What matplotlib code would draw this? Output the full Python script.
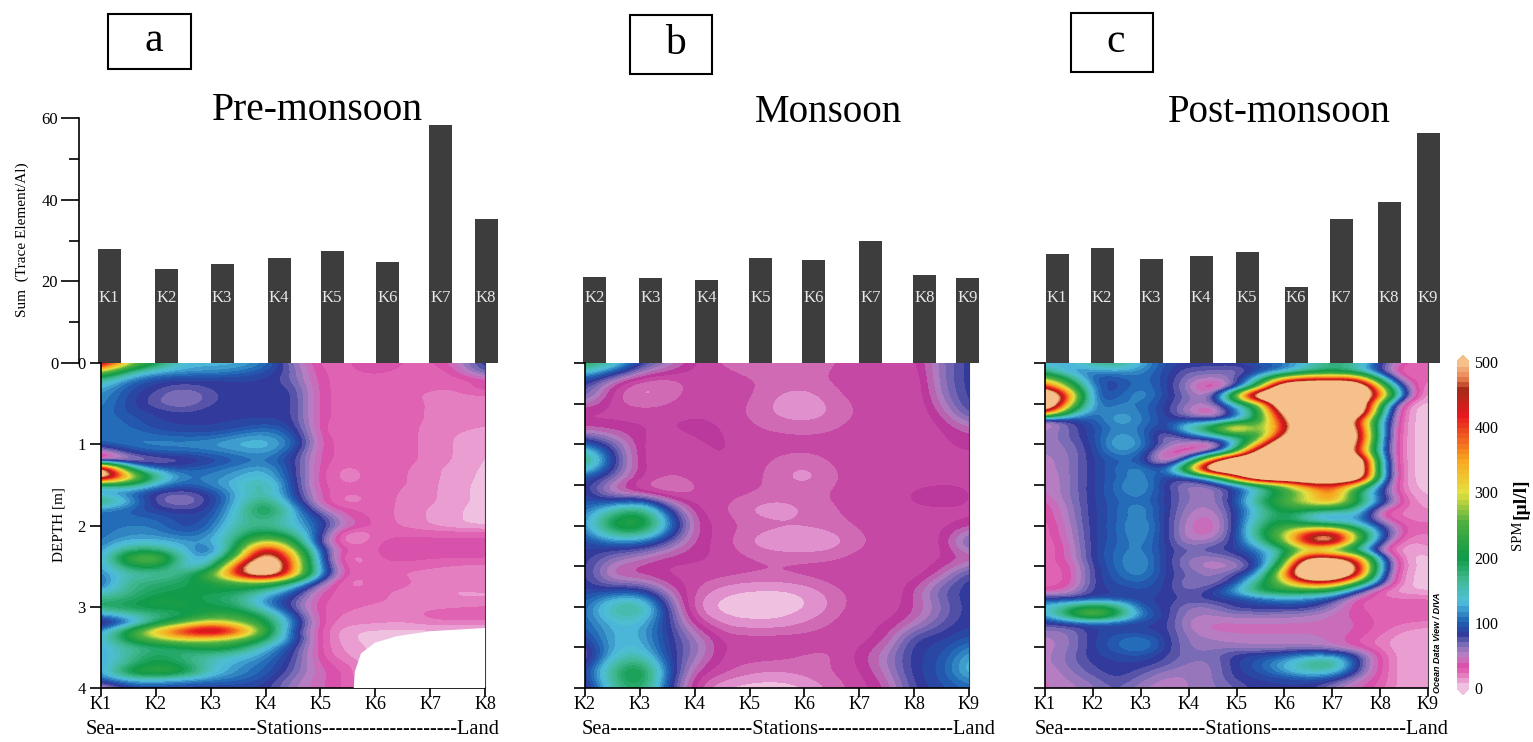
import numpy as np
from matplotlib import pyplot as plt
from matplotlib.colors import LinearSegmentedColormap, Normalize

plt.rcParams['font.family'] = ['Liberation Serif', 'DejaVu Sans']

# bar chart data
stations_a = ['K1', 'K2', 'K3', 'K4', 'K5', 'K6', 'K7', 'K8']
stations_b = ['K2', 'K3', 'K4', 'K5', 'K6', 'K7', 'K8', 'K9']
stations_c = ['K1', 'K2', 'K3', 'K4', 'K5', 'K6', 'K7', 'K8', 'K9']
sum_a = [28.0, 23.0, 24.2, 25.7, 27.4, 24.8, 58.3, 35.2]
sum_b = [21.0, 20.8, 20.4, 25.7, 25.2, 29.8, 21.5, 20.8]
sum_c = [26.7, 28.1, 25.4, 26.2, 27.2, 18.6, 35.2, 39.5, 56.3]

# SPM sections, rows = depth from 0 to 4 m, columns = every half station
# a and c have a row every 0.1 m, b every 0.2 m. values above 500 are off the scale
spm_a = [
    [500, 300, 200, 130, 130, 130, 110, 60, 25, 28, 45, 30, 28, 45, 90],
    [300, 170, 130, 120, 120, 110, 95, 70, 28, 28, 35, 28, 25, 35, 80],
    [170, 110, 90, 85, 85, 85, 85, 70, 30, 28, 28, 25, 25, 28, 35],
    [130, 95, 80, 70, 80, 85, 85, 80, 30, 28, 28, 25, 25, 22, 40],
    [120, 90, 75, 55, 75, 85, 85, 85, 30, 28, 28, 25, 22, 22, 22],
    [115, 90, 70, 60, 78, 85, 85, 85, 30, 28, 28, 28, 22, 20, 20],
    [110, 90, 85, 75, 85, 85, 85, 85, 30, 28, 30, 28, 22, 18, 18],
    [110, 100, 85, 85, 85, 85, 85, 85, 30, 28, 30, 28, 22, 18, 18],
    [105, 105, 90, 85, 85, 90, 105, 90, 30, 18, 28, 28, 20, 18, 15],
    [105, 110, 105, 100, 100, 115, 125, 100, 32, 25, 28, 28, 20, 15, 10],
    [100, 110, 115, 115, 120, 130, 135, 110, 32, 28, 28, 28, 20, 15, 8],
    [30, 85, 100, 100, 105, 115, 125, 90, 32, 28, 30, 28, 20, 15, 8],
    [3, 40, 60, 70, 85, 100, 110, 85, 32, 28, 30, 28, 20, 15, 6],
    [600, 170, 100, 95, 105, 115, 130, 85, 32, 18, 30, 25, 18, 12, 6],
    [600, 350, 170, 110, 110, 125, 140, 85, 30, 18, 28, 25, 18, 12, 5],
    [150, 190, 120, 95, 115, 135, 170, 85, 30, 22, 28, 25, 18, 10, 5],
    [115, 100, 75, 65, 85, 130, 160, 90, 35, 22, 28, 22, 18, 10, 5],
    [200, 130, 70, 55, 80, 130, 190, 100, 35, 15, 28, 22, 18, 10, 5],
    [110, 100, 85, 75, 85, 140, 220, 130, 50, 30, 30, 20, 15, 8, 5],
    [105, 105, 100, 90, 90, 150, 190, 130, 85, 35, 30, 20, 15, 8, 5],
    [105, 110, 110, 85, 100, 160, 170, 140, 90, 45, 30, 22, 15, 8, 5],
    [105, 115, 115, 100, 110, 170, 210, 170, 85, 3, 28, 30, 30, 30, 30],
    [105, 130, 130, 120, 120, 180, 320, 220, 60, 8, 32, 35, 33, 33, 33],
    [110, 180, 180, 130, 85, 200, 500, 280, 85, 25, 32, 35, 33, 33, 33],
    [115, 250, 290, 140, 110, 260, 600, 350, 85, 8, 32, 35, 33, 33, 33],
    [110, 200, 220, 130, 130, 420, 700, 350, 100, 18, 28, 28, 25, 22, 20],
    [110, 150, 150, 170, 250, 450, 600, 350, 110, 20, 28, 22, 20, 18, 15],
    [90, 170, 180, 190, 210, 240, 260, 170, 60, 12, 30, 28, 18, 15, 28],
    [120, 170, 190, 200, 200, 200, 160, 100, 35, 25, 25, 22, 18, 15, 15],
    [170, 180, 210, 200, 190, 170, 110, 80, 30, 28, 25, 22, 18, 15, 15],
    [190, 200, 210, 210, 200, 190, 120, 70, 28, 25, 22, 22, 20, 22, 25],
    [110, 150, 170, 180, 220, 230, 180, 90, 28, 22, 20, 18, 28, 32, 30],
    [55, 90, 180, 250, 330, 270, 210, 110, 28, 18, 18, 15, 20, 20, 20],
    [110, 220, 350, 450, 520, 430, 230, 85, 28, 8, 5, 5, 5, 5, 5],
    [130, 210, 270, 310, 290, 260, 190, 100, 28, 8, 5, 5, 5, 5, 5],
    [120, 160, 170, 190, 220, 200, 130, 85, 28, 12, 5, 5, 5, 5, 5],
    [120, 160, 200, 170, 160, 140, 115, 80, 30, 15, 5, 5, 5, 5, 5],
    [115, 170, 210, 190, 140, 120, 105, 75, 35, 25, 5, 5, 5, 5, 5],
    [115, 220, 250, 220, 140, 115, 100, 70, 40, 30, 5, 5, 5, 5, 5],
    [95, 130, 130, 120, 110, 105, 90, 60, 40, 30, 5, 5, 5, 5, 5],
    [35, 85, 90, 85, 85, 85, 85, 55, 40, 30, 5, 5, 5, 5, 5],
]
spm_b = [
    [210, 170, 90, 60, 30, 22, 15, 15, 18, 22, 28, 28, 25, 60, 85],
    [85, 40, 18, 15, 28, 30, 25, 22, 22, 25, 30, 28, 18, 60, 85],
    [75, 25, 8, 18, 28, 30, 25, 15, 10, 20, 28, 28, 18, 55, 85],
    [25, 30, 28, 28, 30, 28, 22, 12, 8, 15, 25, 28, 20, 40, 80],
    [35, 32, 32, 32, 35, 32, 25, 22, 20, 22, 28, 30, 25, 28, 45],
    [100, 70, 30, 22, 30, 33, 28, 28, 28, 28, 30, 32, 30, 30, 30],
    [220, 85, 30, 20, 28, 32, 28, 22, 18, 25, 30, 30, 30, 32, 32],
    [85, 70, 32, 25, 25, 30, 28, 18, 8, 20, 30, 28, 20, 20, 28],
    [90, 25, 12, 8, 22, 28, 25, 22, 22, 25, 30, 25, 35, 45, 30],
    [100, 150, 200, 85, 30, 25, 12, 8, 15, 22, 28, 30, 28, 28, 30],
    [110, 240, 260, 130, 35, 30, 22, 20, 18, 20, 25, 30, 30, 28, 32],
    [85, 100, 100, 70, 35, 28, 12, 6, 4, 8, 20, 28, 28, 25, 85],
    [85, 60, 45, 32, 33, 30, 25, 22, 22, 22, 28, 30, 28, 28, 30],
    [85, 30, 30, 28, 28, 28, 25, 25, 28, 30, 32, 28, 22, 40, 85],
    [85, 85, 85, 45, 25, 10, 6, 5, 8, 20, 28, 20, 40, 75, 85],
    [100, 170, 190, 75, 12, 2, 2, 2, 5, 15, 30, 25, 35, 60, 85],
    [100, 130, 130, 85, 30, 12, 8, 8, 15, 25, 32, 28, 45, 70, 85],
    [85, 130, 130, 85, 60, 30, 30, 30, 30, 28, 25, 35, 85, 85, 95],
    [50, 130, 150, 85, 60, 28, 28, 28, 22, 20, 35, 55, 85, 90, 130],
    [85, 180, 240, 100, 35, 28, 18, 15, 20, 25, 28, 50, 85, 95, 140],
    [60, 150, 200, 85, 25, 5, 2, 2, 5, 18, 28, 35, 80, 90, 100],
]
spm_c = [
    [130, 125, 170, 180, 130, 90, 85, 85, 85, 100, 110, 140, 190, 170, 85, 30, 28],
    [170, 110, 110, 120, 115, 90, 70, 70, 60, 85, 100, 150, 170, 140, 70, 12, 28],
    [300, 190, 90, 90, 110, 90, 60, 45, 70, 150, 350, 430, 430, 430, 160, 25, 28],
    [450, 260, 100, 85, 115, 90, 55, 12, 55, 240, 700, 700, 700, 700, 300, 60, 10],
    [700, 380, 85, 95, 125, 90, 65, 45, 300, 700, 700, 700, 700, 700, 400, 70, 5],
    [700, 300, 100, 110, 110, 85, 60, 50, 150, 240, 700, 700, 700, 700, 200, 8, 5],
    [480, 190, 100, 120, 110, 85, 50, 15, 100, 200, 550, 700, 700, 700, 150, 5, 5],
    [30, 80, 95, 130, 115, 85, 85, 70, 110, 220, 450, 700, 700, 450, 130, 5, 5],
    [50, 70, 90, 115, 110, 75, 170, 240, 420, 240, 400, 700, 700, 500, 110, 5, 5],
    [55, 70, 90, 125, 115, 50, 85, 130, 180, 190, 500, 700, 700, 550, 110, 5, 5],
    [55, 65, 85, 135, 120, 65, 45, 15, 120, 350, 700, 700, 700, 500, 100, 5, 5],
    [55, 60, 85, 120, 110, 30, 20, 55, 200, 600, 700, 700, 700, 450, 100, 5, 5],
    [50, 60, 85, 100, 100, 15, 100, 400, 700, 700, 700, 700, 700, 700, 110, 5, 5],
    [50, 60, 85, 105, 120, 85, 270, 700, 700, 700, 700, 700, 700, 700, 110, 5, 5],
    [45, 60, 85, 100, 120, 85, 85, 140, 420, 700, 700, 700, 700, 700, 120, 5, 5],
    [45, 60, 85, 105, 130, 80, 55, 60, 90, 170, 250, 400, 420, 300, 90, 8, 5],
    [45, 60, 85, 105, 120, 85, 60, 55, 85, 150, 220, 280, 400, 180, 85, 15, 5],
    [35, 60, 85, 100, 110, 85, 60, 55, 90, 190, 250, 320, 370, 220, 110, 25, 8],
    [30, 55, 85, 100, 125, 85, 55, 50, 85, 150, 220, 210, 190, 170, 35, 22, 15],
    [28, 55, 85, 100, 120, 85, 50, 40, 85, 160, 200, 120, 85, 130, 30, 20, 22],
    [25, 50, 85, 100, 130, 85, 45, 35, 85, 180, 230, 220, 200, 150, 85, 25, 25],
    [25, 48, 85, 100, 125, 85, 45, 40, 85, 190, 280, 450, 500, 270, 110, 25, 25],
    [22, 45, 85, 100, 120, 85, 50, 60, 85, 160, 260, 480, 550, 250, 85, 10, 20],
    [22, 40, 85, 105, 115, 85, 70, 80, 85, 110, 170, 270, 200, 150, 30, 5, 15],
    [25, 40, 85, 105, 125, 85, 60, 55, 70, 100, 180, 500, 500, 400, 100, 5, 5],
    [28, 30, 80, 105, 125, 85, 60, 45, 50, 85, 240, 700, 700, 500, 120, 8, 5],
    [28, 28, 80, 100, 120, 85, 70, 60, 75, 120, 350, 700, 700, 480, 90, 5, 5],
    [28, 28, 80, 95, 105, 85, 60, 60, 85, 190, 280, 420, 420, 240, 85, 5, 5],
    [30, 40, 85, 85, 95, 85, 65, 85, 130, 210, 220, 220, 200, 90, 15, 8, 5],
    [85, 75, 85, 85, 85, 85, 75, 85, 85, 100, 120, 110, 85, 28, 28, 25, 25],
    [130, 180, 220, 190, 90, 85, 60, 60, 85, 85, 85, 85, 60, 30, 28, 28, 28],
    [120, 210, 300, 210, 110, 85, 55, 55, 60, 60, 60, 55, 45, 35, 28, 28, 28],
    [75, 85, 90, 90, 85, 85, 50, 45, 45, 45, 45, 45, 45, 40, 28, 25, 22],
    [60, 60, 85, 90, 85, 85, 55, 45, 45, 45, 45, 45, 45, 38, 28, 15, 10],
    [50, 60, 85, 100, 115, 85, 60, 55, 50, 50, 50, 50, 45, 32, 20, 8, 8],
    [50, 60, 85, 100, 120, 85, 60, 60, 60, 55, 55, 55, 50, 35, 20, 8, 8],
    [50, 65, 85, 90, 95, 80, 65, 65, 85, 90, 100, 120, 120, 85, 30, 8, 8],
    [50, 65, 80, 85, 85, 75, 60, 60, 85, 100, 130, 170, 190, 85, 30, 8, 8],
    [45, 60, 75, 85, 75, 60, 55, 60, 85, 95, 120, 150, 140, 80, 30, 8, 8],
    [45, 55, 65, 80, 65, 50, 55, 60, 80, 85, 85, 90, 85, 50, 30, 8, 8],
    [45, 50, 60, 75, 55, 48, 55, 60, 70, 85, 85, 85, 60, 40, 28, 8, 8],
]
# edge of the area without data in panel a (station number, depth)
nodata_station = [5.62, 5.64, 5.75, 6.0, 6.4, 7.0, 8.0, 8.0, 5.62]
nodata_depth = [4.0, 3.8, 3.58, 3.45, 3.37, 3.31, 3.27, 4.0, 4.0]

W, H = 1533, 742
fig = plt.figure(figsize=(W / 100, H / 100), dpi=100)

# ODV style colour scale
hot = [(200, '#109A48'), (255, '#50B040'), (300, '#E4E040'), (350, '#F8A820'), (420, '#E81820'),
       (460, '#A82818'), (478, '#E88050'), (500, '#F5C08C')]
cool = [(80, '#303A9C'), (100, '#1F62B4'), (130, '#50C0DC'), (165, '#40B890')]
anchors = [(0, '#EFC0E0'), (12, '#E88CC8'), (30, '#DC4CA8'), (45, '#C080C4'), (62, '#8070B8')] + cool + hot
anchors_b = [(0, '#EFC0E0'), (8, '#E090CC'), (18, '#CC60B0'), (30, '#BC3098'), (45, '#B880C0'), (62, '#7868B4')] + cool + hot
spm_cmap = LinearSegmentedColormap.from_list('odv', [(v / 500, c) for v, c in anchors], N=64)
spm_cmap_b = LinearSegmentedColormap.from_list('odv_b', [(v / 500, c) for v, c in anchors_b], N=64)
spm_norm = Normalize(0, 500)


def px_axes(x0, y0, x1, y1):
    # axes from picture pixels
    return fig.add_axes([x0 / W, 1 - y1 / H, (x1 - x0) / W, (y1 - y0) / H])


def px_text(x, y, s, **kw):
    kw.setdefault('ha', 'center')
    kw.setdefault('va', 'center')
    fig.text(x / W, 1 - y / H, s, **kw)


def bars(names, values, centers, x0, x1, label_y=16.0):
    ax = px_axes(x0, 118, x1, 363)
    ax.bar(centers, values, width=23, color='#3D3D3D')
    ax.set_xlim(x0, x1)
    ax.set_ylim(0, 60)
    ax.patch.set_visible(False)
    for s in ['top', 'right', 'left', 'bottom']:
        ax.spines[s].set_visible(False)
    ax.set_xticks([])
    ax.set_yticks([])
    for c, n in zip(centers, names):
        ax.text(c, label_y, n, color='#E8E8E8', fontsize=12, ha='center', va='center')
    return ax


def section(grid, names, x0, x1, cmap):
    ax = px_axes(x0, 363, x1, 688)
    grid = np.array(grid, dtype=float)
    n = len(names) - 1
    dz = 4 / (grid.shape[0] - 1)
    ax.imshow(grid, cmap=cmap, norm=spm_norm, aspect='auto', interpolation='bicubic',
              extent=(0.75, n + 1.25, 4 + dz / 2, -dz / 2))
    ax.set_xlim(1, n + 1)
    ax.set_ylim(4, 0)
    ax.set_xticks(range(1, n + 2))
    ax.set_xticklabels(names, fontsize=13)
    ax.tick_params(axis='x', length=6, width=1.2, pad=0)
    ax.tick_params(axis='y', length=8, width=1.2)
    ax.spines['top'].set_visible(False)
    ax.spines['right'].set_color('#404040')
    ax.spines['bottom'].set_linewidth(1.2)
    ax.spines['left'].set_linewidth(1.2)
    return ax


# panel a
bax = bars(stations_a, sum_a, [109, 166.5, 222, 279, 332, 387.5, 440.5, 486], 79, 500)
bax.spines['left'].set_visible(True)
bax.spines['left'].set_linewidth(1.2)
bax.set_yticks([0, 20, 40, 60])
bax.set_yticks([10, 30, 50], minor=True)
bax.tick_params(axis='y', which='major', length=13, width=1.2, labelsize=12, pad=2)
bax.tick_params(axis='y', which='minor', length=7, width=1.2)
ax_a = section(spm_a, stations_a, 101, 485, spm_cmap)
ax_a.fill(nodata_station, nodata_depth, color='white', zorder=3)
ax_a.set_yticks([0, 1, 2, 3, 4])
ax_a.tick_params(axis='y', labelsize=12, pad=3)

# panel b
bars(stations_b, sum_b, [595, 651, 707, 761, 814, 871, 925, 968], 570, 985)
ax_b = section(spm_b, stations_b, 585, 969, spm_cmap_b)
ax_b.set_yticks(np.arange(0, 4.01, 0.5))
ax_b.set_yticklabels([])

# panel c
bars(stations_c, sum_c, [1057, 1102, 1151, 1201, 1247, 1296, 1341, 1389, 1428], 1030, 1445)
ax_c = section(spm_c, stations_c, 1045, 1428, spm_cmap)
ax_c.set_yticks(np.arange(0, 4.01, 0.5))
ax_c.set_yticklabels([])

# colour bar
cax = px_axes(1457, 355, 1469, 695)
cb = fig.colorbar(plt.cm.ScalarMappable(norm=spm_norm, cmap=spm_cmap), cax=cax, extend='both',
                  extendfrac=0.0215, drawedges=False)
cb.outline.set_visible(False)
cb.set_ticks([0, 100, 200, 300, 400, 500])
cb.ax.tick_params(length=0, labelsize=11.5, pad=4)

# texts
px_text(22, 240, 'Sum  (Trace Element/Al)', rotation=90, fontsize=11)
px_text(59, 525, 'DEPTH [m]', rotation=90, fontsize=11)
px_text(317.5, 110, 'Pre-monsoon', fontsize=28.5)
px_text(828, 113, 'Monsoon', fontsize=28)
px_text(1279.5, 112, 'Post-monsoon', fontsize=28)
bottom = 'Sea' + '-' * 21 + 'Stations' + '-' * 20 + 'Land'
px_text(292.5, 729, bottom, fontsize=14.7)
px_text(788.5, 730, bottom, fontsize=14.7)
px_text(1242, 730, bottom, fontsize=14.7)
px_text(1437, 643, 'Ocean Data View / DIVA', rotation=90, fontsize=6.5, family='Liberation Sans',
        style='italic', weight='bold')
px_text(1517, 535, 'SPM', rotation=90, fontsize=10.5)
px_text(1521, 499, '[µl/l]', rotation=90, fontsize=14, weight='bold')

# letter boxes
for (x0, y0, x1, y1), s in zip([(108, 14, 191, 69), (630, 15, 712, 74), (1071, 13, 1153, 72)], 'abc'):
    fig.add_artist(plt.Rectangle((x0 / W, 1 - y1 / H), (x1 - x0) / W, (y1 - y0) / H, fill=False,
                                 edgecolor='black', linewidth=1.5, transform=fig.transFigure))
    px_text((x0 + x1) / 2 + 4, (y0 + y1) / 2 - 1, s, fontsize=30)

plt.savefig('out.png', dpi=100)
